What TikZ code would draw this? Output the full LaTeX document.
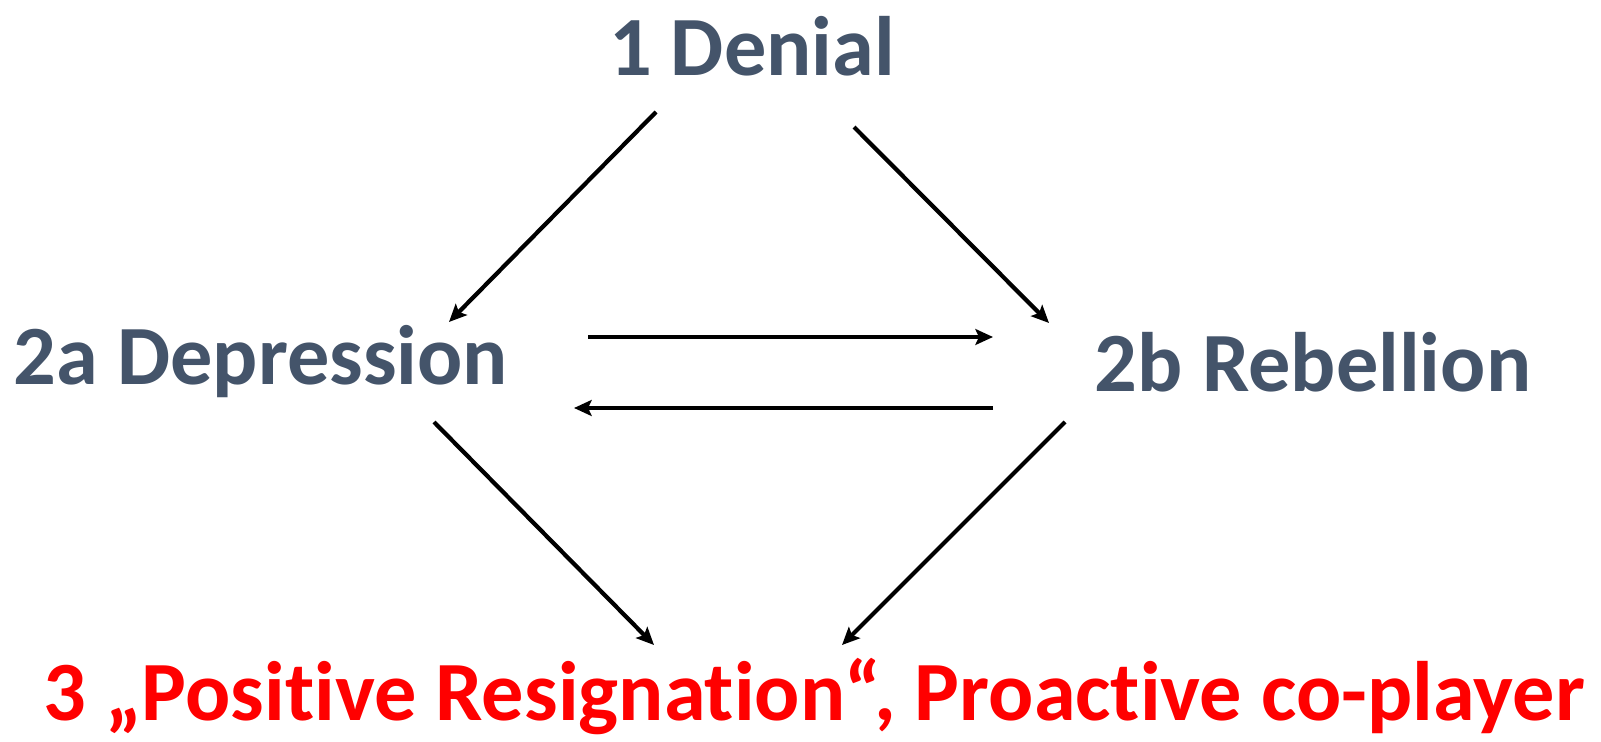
\documentclass[tikz,border=0pt]{standalone}
\usepackage{fontspec}
\setmainfont{Carlito}[Ligatures=NoCommon]
\usetikzlibrary{arrows.meta}
\definecolor{slate}{HTML}{44546A}
\definecolor{alarm}{HTML}{FF0000}
\tikzset{
  stage/.style={font=\fontsize{48}{58}\selectfont\bfseries, text=slate, inner sep=0pt},
  goal/.style={stage, text=alarm},
  arr/.style={-{Stealth[length=10pt,width=9pt,inset=2pt]}, line width=2.4pt}
}
\begin{document}
\begin{tikzpicture}[x=0.02cm,y=-0.02cm]
\useasboundingbox (0,0) rectangle (1601,742);
% Stages
\node[stage] (den) at (752,46) {1 Denial};
\node[stage] (dep) at (261,362) {2a Depression};
\node[stage] (reb) at (1313,362) {2b Rebellion};
\node[goal] (res) at (814,697) {3 „Positive Resignation“, Proactive co-player};

% Arrow ends
\coordinate (denL) at (656,112);
\coordinate (denR) at (854,127);
\coordinate (depT) at (449,322);
\coordinate (rebT) at (1049,323);
\coordinate (depA) at (588,337);
\coordinate (rebA) at (993,337);
\coordinate (rebB) at (993,408);
\coordinate (depB) at (574,408);
\coordinate (depD) at (434,422);
\coordinate (rebD) at (1065,422);
\coordinate (resL) at (654,645);
\coordinate (resR) at (842,645);

% Arrows
\draw[arr] (denL) -- (depT);
\draw[arr] (denR) -- (rebT);
\draw[arr] (depA) -- (rebA);
\draw[arr] (rebB) -- (depB);
\draw[arr] (depD) -- (resL);
\draw[arr] (rebD) -- (resR);
\end{tikzpicture}
\end{document}
